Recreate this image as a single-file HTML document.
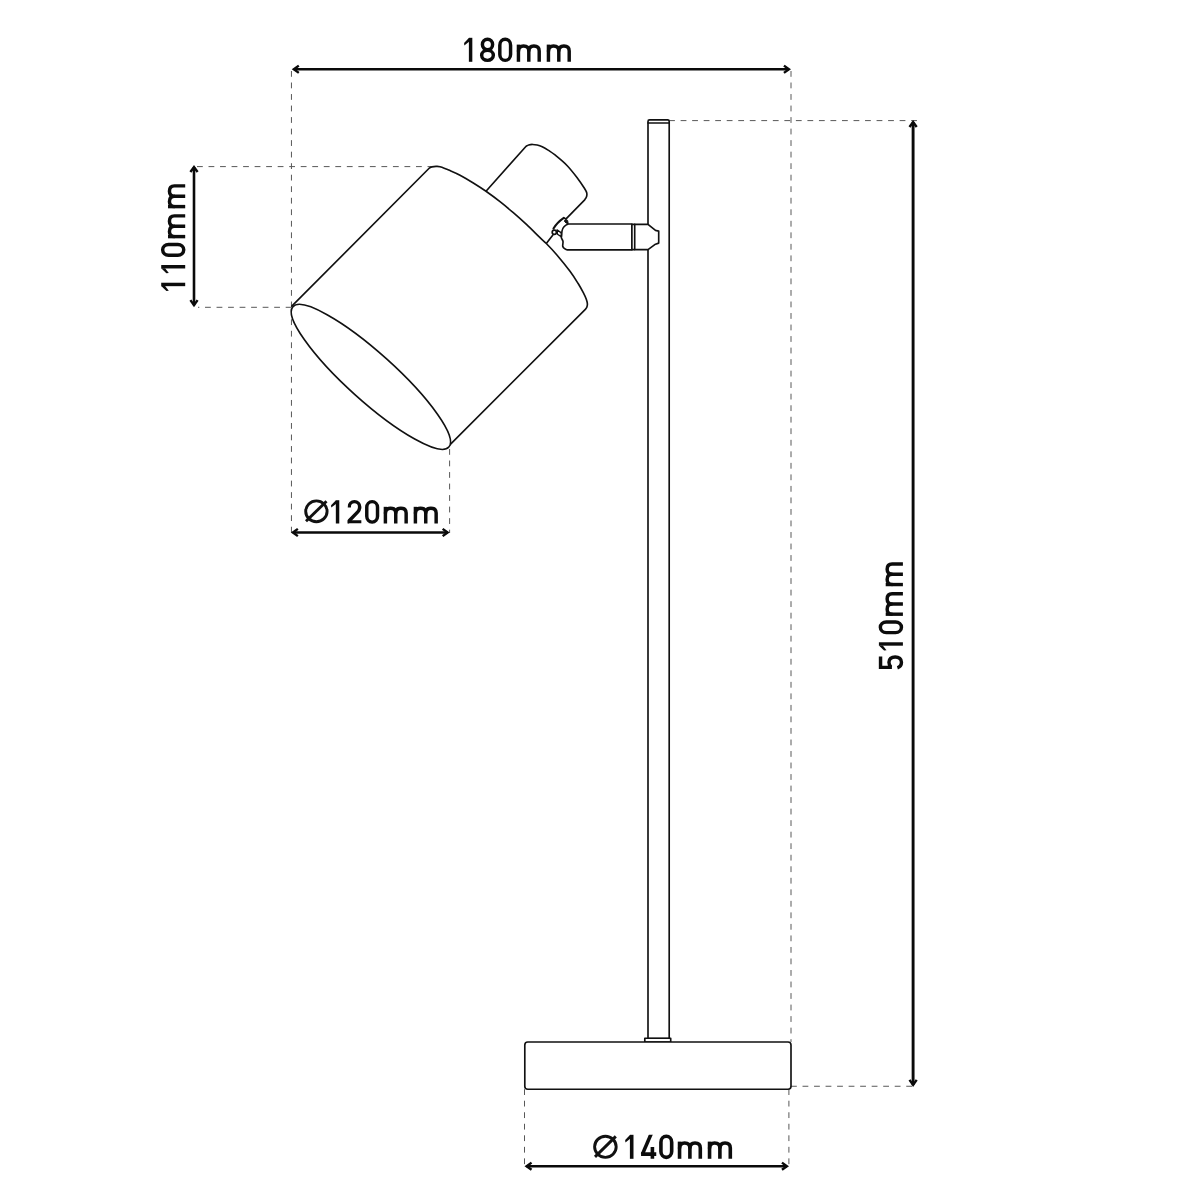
<!DOCTYPE html>
<html>
<head>
<meta charset="utf-8">
<title>Lamp dimensions</title>
<style>
  html, body { margin: 0; padding: 0; background: #ffffff; }
  body { width: 1200px; height: 1200px; overflow: hidden; }
  svg { display: block; position: absolute; left: 0; top: 0; }
  text { font-family: "Liberation Sans", sans-serif; fill: #111; stroke: #111; stroke-width: 0.95; stroke-linejoin: round; }
  .dash { stroke: #585858; stroke-width: 1.0; stroke-dasharray: 5.8 5.726; fill: none; }
  .arr { stroke: #0a0a0a; fill: none; stroke-linecap: butt; stroke-linejoin: miter; }
  .ln { stroke: #111; stroke-width: 1.65; fill: none; stroke-linecap: round; stroke-linejoin: round; }
  .gl { fill: none; stroke: #0c0c0c; stroke-linecap: butt; stroke-linejoin: round; }
  .gl .gf { fill: #0c0c0c; stroke: none; }
  .lnw { stroke: #111; stroke-width: 1.65; fill: #fff; stroke-linecap: round; stroke-linejoin: round; }
</style>
</head>
<body>
<svg width="1200" height="1200" viewBox="0 0 1200 1200">
  <title>Desk lamp dimension drawing</title>
  <desc>Line drawing of a desk lamp with dimensions: width 180mm, shade length 110mm, shade diameter 120mm, height 510mm, base diameter 140mm.</desc>
  <rect x="0" y="0" width="1200" height="1200" fill="#ffffff"/>

  <!-- dashed extension lines -->
  <g class="dash">
    <line x1="291.45" y1="71" x2="291.45" y2="306.5"/>
    <line x1="291.45" y1="307.75" x2="291.45" y2="533"/>
    <line x1="791" y1="71" x2="791" y2="1042"/>
    <line x1="788.9" y1="1089.2" x2="788.9" y2="1166"/>
    <line x1="524.5" y1="1089.2" x2="524.5" y2="1166"/>
    <line x1="449.6" y1="449" x2="449.6" y2="533"/>
    <line x1="197" y1="166.6" x2="431" y2="166.6"/>
    <line x1="291.5" y1="307.3" x2="198" y2="307.3"/>
    <line x1="669.1" y1="120.6" x2="917" y2="120.6"/>
    <line x1="791" y1="1086.25" x2="913" y2="1086.25"/>
  </g>

  <!-- dimension arrows -->
  <g class="arr">
    <line x1="293.75" y1="69.25" x2="789.00" y2="69.25" stroke-width="2.6"/>
    <polyline points="783.95,72.85 788.95,69.25 783.95,65.65" stroke-width="2.4"/>
    <polyline points="298.80,65.65 293.80,69.25 298.80,72.85" stroke-width="2.4"/>
    <line x1="194.00" y1="167.00" x2="194.00" y2="305.20" stroke-width="2.6"/>
    <polyline points="190.40,300.15 194.00,305.15 197.60,300.15" stroke-width="2.4"/>
    <polyline points="197.60,172.05 194.00,167.05 190.40,172.05" stroke-width="2.4"/>
    <line x1="292.80" y1="532.50" x2="447.70" y2="532.50" stroke-width="2.6"/>
    <polyline points="442.65,536.10 447.65,532.50 442.65,528.90" stroke-width="2.4"/>
    <polyline points="297.85,528.90 292.85,532.50 297.85,536.10" stroke-width="2.4"/>
    <line x1="913.10" y1="121.90" x2="913.10" y2="1084.90" stroke-width="2.9"/>
    <polyline points="909.50,1079.85 913.10,1084.85 916.70,1079.85" stroke-width="2.4"/>
    <polyline points="916.70,126.95 913.10,121.95 909.50,126.95" stroke-width="2.4"/>
    <line x1="526.50" y1="1166.20" x2="787.00" y2="1166.20" stroke-width="2.6"/>
    <polyline points="781.95,1169.80 786.95,1166.20 781.95,1162.60" stroke-width="2.4"/>
    <polyline points="531.55,1162.60 526.55,1166.20 531.55,1169.80" stroke-width="2.4"/>
  </g>

  <!-- labels -->
  <defs><clipPath id="clip2"><rect x="0" y="-25" width="15" height="25"/></clipPath><clipPath id="clip4"><rect x="-1" y="-24" width="18" height="25"/></clipPath></defs>
  <g class="gl" role="img" aria-label="180mm" transform="translate(460.95,61.80) scale(1.0,1.0)" stroke-width="3.45"><title>180mm</title><g transform="translate(0.000,0)"><path d="M9.65,0 L9.65,-24" /><polygon class="gf" points="8.10,-24 3.15,-18.8 3.35,-16.4 8.10,-20.1"/></g><g transform="translate(17.700,0)"><ellipse cx="8.85" cy="-17.35" rx="5.1" ry="5.3"/><ellipse cx="8.85" cy="-6.45" rx="5.85" ry="5.0"/></g><g transform="translate(35.400,0)"><rect x="3.475" y="-22.55" width="10.75" height="21.1" rx="5.375" ry="5.9"/></g><g transform="translate(55.900,0)"><path d="M1.6,0 L1.6,-17.2"/><path d="M1.6,-10.4 C1.6,-14 3.6,-15.75 6.7,-15.75 C9.9,-15.75 11.95,-14 11.95,-10.8 L11.95,0"/><path d="M11.95,-10.4 C11.95,-14 13.95,-15.75 17.05,-15.75 C20.3,-15.75 22.35,-14 22.35,-10.8 L22.35,0"/></g><g transform="translate(85.900,0)"><path d="M1.6,0 L1.6,-17.2"/><path d="M1.6,-10.4 C1.6,-14 3.6,-15.75 6.7,-15.75 C9.9,-15.75 11.95,-14 11.95,-10.8 L11.95,0"/><path d="M11.95,-10.4 C11.95,-14 13.95,-15.75 17.05,-15.75 C20.3,-15.75 22.35,-14 22.35,-10.8 L22.35,0"/></g></g>
  <g class="gl" role="img" aria-label="110mm" transform="translate(185.20,294.10) rotate(-90) scale(1.0,1.0)" stroke-width="3.45"><title>110mm</title><g transform="translate(0.000,0)"><path d="M9.65,0 L9.65,-24" /><polygon class="gf" points="8.10,-24 3.15,-18.8 3.35,-16.4 8.10,-20.1"/></g><g transform="translate(17.700,0)"><path d="M9.65,0 L9.65,-24" /><polygon class="gf" points="8.10,-24 3.15,-18.8 3.35,-16.4 8.10,-20.1"/></g><g transform="translate(35.400,0)"><rect x="3.475" y="-22.55" width="10.75" height="21.1" rx="5.375" ry="5.9"/></g><g transform="translate(55.900,0)"><path d="M1.6,0 L1.6,-17.2"/><path d="M1.6,-10.4 C1.6,-14 3.6,-15.75 6.7,-15.75 C9.9,-15.75 11.95,-14 11.95,-10.8 L11.95,0"/><path d="M11.95,-10.4 C11.95,-14 13.95,-15.75 17.05,-15.75 C20.3,-15.75 22.35,-14 22.35,-10.8 L22.35,0"/></g><g transform="translate(85.900,0)"><path d="M1.6,0 L1.6,-17.2"/><path d="M1.6,-10.4 C1.6,-14 3.6,-15.75 6.7,-15.75 C9.9,-15.75 11.95,-14 11.95,-10.8 L11.95,0"/><path d="M11.95,-10.4 C11.95,-14 13.95,-15.75 17.05,-15.75 C20.3,-15.75 22.35,-14 22.35,-10.8 L22.35,0"/></g></g>
  <g class="gl" role="img" aria-label="510mm" transform="translate(902.90,671.00) rotate(-90) scale(0.988,1.0)" stroke-width="3.45"><title>510mm</title><g transform="translate(0.000,0)"><g transform="translate(1.800,0)"><path d="M13,-22.35 L1.85,-22.35 L1.85,-11" stroke-linejoin="miter"/><path d="M2,-11.9 C3.4,-13.3 5,-13.95 7,-13.95 C10.5,-13.95 12.45,-11.6 12.45,-7.7 C12.45,-3.9 10.3,-1.45 7,-1.45 C4.3,-1.45 2.3,-2.7 1.45,-5.5"/></g></g><g transform="translate(17.700,0)"><path d="M9.65,0 L9.65,-24" /><polygon class="gf" points="8.10,-24 3.15,-18.8 3.35,-16.4 8.10,-20.1"/></g><g transform="translate(35.400,0)"><rect x="3.475" y="-22.55" width="10.75" height="21.1" rx="5.375" ry="5.9"/></g><g transform="translate(55.900,0)"><path d="M1.6,0 L1.6,-17.2"/><path d="M1.6,-10.4 C1.6,-14 3.6,-15.75 6.7,-15.75 C9.9,-15.75 11.95,-14 11.95,-10.8 L11.95,0"/><path d="M11.95,-10.4 C11.95,-14 13.95,-15.75 17.05,-15.75 C20.3,-15.75 22.35,-14 22.35,-10.8 L22.35,0"/></g><g transform="translate(85.900,0)"><path d="M1.6,0 L1.6,-17.2"/><path d="M1.6,-10.4 C1.6,-14 3.6,-15.75 6.7,-15.75 C9.9,-15.75 11.95,-14 11.95,-10.8 L11.95,0"/><path d="M11.95,-10.4 C11.95,-14 13.95,-15.75 17.05,-15.75 C20.3,-15.75 22.35,-14 22.35,-10.8 L22.35,0"/></g></g>
  <g class="gl" role="img" aria-label="Ø120mm" transform="translate(327.90,523.50) scale(1.0,0.97)" stroke-width="3.45"><title>Ø120mm</title><g transform="translate(0.000,0)"><path d="M9.65,0 L9.65,-24" /><polygon class="gf" points="8.10,-24 3.15,-18.8 3.35,-16.4 8.10,-20.1"/></g><g transform="translate(17.700,0)"><g transform="translate(1.975,0)" clip-path="url(#clip2)"><path d="M1.62,-16.6 L1.62,-17 A5.25,5.55 0 0 1 12.12,-17 C12.12,-14.8 11.4,-13.4 10.2,-12 L0.2,-1.3 L-1,0"/><path d="M0,-1.65 L13.75,-1.65"/></g></g><g transform="translate(35.400,0)"><rect x="3.475" y="-22.55" width="10.75" height="21.1" rx="5.375" ry="5.9"/></g><g transform="translate(55.900,0)"><path d="M1.6,0 L1.6,-17.2"/><path d="M1.6,-10.4 C1.6,-14 3.6,-15.75 6.7,-15.75 C9.9,-15.75 11.95,-14 11.95,-10.8 L11.95,0"/><path d="M11.95,-10.4 C11.95,-14 13.95,-15.75 17.05,-15.75 C20.3,-15.75 22.35,-14 22.35,-10.8 L22.35,0"/></g><g transform="translate(85.900,0)"><path d="M1.6,0 L1.6,-17.2"/><path d="M1.6,-10.4 C1.6,-14 3.6,-15.75 6.7,-15.75 C9.9,-15.75 11.95,-14 11.95,-10.8 L11.95,0"/><path d="M11.95,-10.4 C11.95,-14 13.95,-15.75 17.05,-15.75 C20.3,-15.75 22.35,-14 22.35,-10.8 L22.35,0"/></g></g>
  <g class="gl" role="img" aria-label="Ø140mm" transform="translate(622.05,1158.80) scale(1.0,1.0)" stroke-width="3.6"><title>Ø140mm</title><g transform="translate(0.000,0)"><path d="M9.65,0 L9.65,-24" /><polygon class="gf" points="8.10,-24 3.15,-18.8 3.35,-16.4 8.10,-20.1"/></g><g transform="translate(17.700,0)"><g transform="translate(1.200,0)" clip-path="url(#clip4)"><path d="M11.45,0 L11.45,-11.8"/><path d="M0.1,-4.65 L15.3,-4.65"/><path d="M10.66,-26 L1.5,-4.65"/></g></g><g transform="translate(35.400,0)"><rect x="3.475" y="-22.55" width="10.75" height="21.1" rx="5.375" ry="5.9"/></g><g transform="translate(55.900,0)"><path d="M1.6,0 L1.6,-17.2"/><path d="M1.6,-10.4 C1.6,-14 3.6,-15.75 6.7,-15.75 C9.9,-15.75 11.95,-14 11.95,-10.8 L11.95,0"/><path d="M11.95,-10.4 C11.95,-14 13.95,-15.75 17.05,-15.75 C20.3,-15.75 22.35,-14 22.35,-10.8 L22.35,0"/></g><g transform="translate(85.900,0)"><path d="M1.6,0 L1.6,-17.2"/><path d="M1.6,-10.4 C1.6,-14 3.6,-15.75 6.7,-15.75 C9.9,-15.75 11.95,-14 11.95,-10.8 L11.95,0"/><path d="M11.95,-10.4 C11.95,-14 13.95,-15.75 17.05,-15.75 C20.3,-15.75 22.35,-14 22.35,-10.8 L22.35,0"/></g></g>

  <!-- diameter symbols -->
  <g fill="none" stroke="#111" stroke-width="2.9" stroke-linecap="butt">
    <ellipse cx="316.4" cy="511.3" rx="10.7" ry="10.4"/>
    <line x1="306" y1="521.3" x2="326.5" y2="501.2"/>
    <ellipse cx="605.4" cy="1146.8" rx="10.8" ry="10.55"/>
    <line x1="595" y1="1156.9" x2="615.8" y2="1136.4"/>
  </g>

  <!-- LAMP -->
  <!-- pole -->
  <path class="lnw" d="M648,1038.5 L648,121.4 Q648,119.9 649.5,119.9 L667.7,119.9 Q669.2,119.9 669.2,121.4 L669.2,1038.5 Z"/>
  <line class="ln" x1="648" y1="123" x2="669.2" y2="123"/>
  <!-- pole collar -->
  <rect class="lnw" x="644.8" y="1038.2" width="25.9" height="3.8"/>
  <!-- base -->
  <rect class="lnw" x="524.8" y="1042" width="266.2" height="47.2" rx="3" ry="3"/>

  <!-- cap (back cylinder) -->
  <path d="M486,191.3 L526.1,146.2 C526.53,145.99 527.63,145.24 528.70,144.95 C529.77,144.66 531.08,144.44 532.50,144.45 C533.92,144.46 535.58,144.61 537.20,145.00 C538.83,145.39 540.37,145.90 542.25,146.80 C544.13,147.70 546.38,149.04 548.50,150.40 C550.62,151.76 551.92,152.44 555.00,154.95 C558.08,157.46 563.25,161.58 567.00,165.45 C570.75,169.32 574.62,174.40 577.50,178.15 C580.38,181.90 582.77,185.66 584.25,187.95 C585.73,190.24 585.96,190.82 586.40,191.90 C586.84,192.98 586.92,193.50 586.90,194.40 C586.88,195.30 586.67,196.40 586.30,197.30 C585.93,198.20 584.97,199.38 584.70,199.80 L566.3,218.6 L553,234.8 L546.3,243.4 Z" fill="#fff" stroke="none"/>
  <path class="ln" d="M486,191.3 L526.1,146.2 C526.53,145.99 527.63,145.24 528.70,144.95 C529.77,144.66 531.08,144.44 532.50,144.45 C533.92,144.46 535.58,144.61 537.20,145.00 C538.83,145.39 540.37,145.90 542.25,146.80 C544.13,147.70 546.38,149.04 548.50,150.40 C550.62,151.76 551.92,152.44 555.00,154.95 C558.08,157.46 563.25,161.58 567.00,165.45 C570.75,169.32 574.62,174.40 577.50,178.15 C580.38,181.90 582.77,185.66 584.25,187.95 C585.73,190.24 585.96,190.82 586.40,191.90 C586.84,192.98 586.92,193.50 586.90,194.40 C586.88,195.30 586.67,196.40 586.30,197.30 C585.93,198.20 584.97,199.38 584.70,199.80 L566.3,218.6"/>
  <path class="ln" d="M552.9,234.9 L546.3,243.4"/>

  <!-- hinge fill -->
  <path d="M563.6,217.9 L566.6,219.2 L567.6,223.6 C564.6,225 562.6,228 562,231 L561.4,236.6 L557.2,234.2 L553.6,235 C552,234 551.8,231.6 552.6,230 C554.6,225.4 559,221 563.6,217.9 Z" fill="#fff" stroke="none"/>
  <!-- arm -->
  <path class="lnw" d="M631.9,224 L568.3,224 C566.5,224.6 565,225.6 564,226.7 C562.8,228 562.2,229.5 562,231 C561.8,232.5 561.7,233.8 561.7,235 C561.6,236 561.3,236.6 561.3,237.3 C561.4,238.8 562.8,240 563,241.3 C563.2,242.8 562.6,244.5 562.7,246 C562.9,247.3 563.6,248.2 564.7,248.7 C565.5,249.3 566.4,249.8 567.3,249.9 L631.9,249.9 Z"/>
  <!-- connector -->
  <path class="lnw" d="M631.9,224.3 L648,224.3 L655.5,230.4 L658.7,231.1 L658.7,243.1 L655.5,244.2 L648,249.6 L631.9,249.6 Z"/>
  <line class="ln" x1="634.7" y1="224.3" x2="634.7" y2="249.6"/>

  <!-- hinge -->
  <path d="M563.8,217.9 C559.6,220.8 555.8,224.6 553.5,228.6" fill="none" stroke="#111" stroke-width="2.1" stroke-linecap="round"/>
  <path class="ln" d="M563.8,217.9 L566.4,219"/>
  <circle cx="554.3" cy="232.3" r="2.1" fill="#fff" stroke="#111" stroke-width="1.7"/>
  <path d="M557,229.9 L561,232.6 L561.5,236.9 L557.5,234.2 Z" fill="#fff" stroke="#111" stroke-width="1.3" stroke-linejoin="round"/>
  <path d="M565.2,219.6 L567.6,220.4 L568.2,223.6 L566,223 L564.4,221.2 Z" fill="#111" stroke="#111" stroke-width="1" stroke-linejoin="round"/>

  <!-- shade -->
  <path d="M291.8,306.2 L429.4,168 C429.83,167.82 430.90,167.17 432.00,166.90 C433.10,166.63 434.67,166.42 436.00,166.40 C437.33,166.38 437.67,166.10 440.00,166.80 C442.33,167.50 446.67,169.20 450.00,170.60 C453.33,172.00 456.12,173.13 460.00,175.20 C463.88,177.27 468.97,180.32 473.30,183.00 C477.63,185.68 481.55,188.18 486.00,191.30 C490.45,194.42 495.45,198.13 500.00,201.70 C504.55,205.27 508.85,208.87 513.30,212.70 C517.75,216.53 522.25,220.53 526.70,224.70 C531.15,228.87 536.73,234.57 540.00,237.70 C543.27,240.83 543.52,240.67 546.30,243.50 C549.08,246.33 552.75,250.07 556.70,254.70 C560.65,259.33 566.45,266.53 570.00,271.30 C573.55,276.07 575.78,279.73 578.00,283.30 C580.22,286.87 581.92,290.03 583.30,292.70 C584.68,295.37 585.62,297.42 586.30,299.30 C586.98,301.18 587.32,302.67 587.40,304.00 C587.48,305.33 587.10,306.45 586.80,307.30 C586.50,308.15 585.80,308.80 585.60,309.10 L449.6,445.1 Z" fill="#fff" stroke="none"/>
  <path class="ln" d="M291.8,306.2 L429.4,168 C429.83,167.82 430.90,167.17 432.00,166.90 C433.10,166.63 434.67,166.42 436.00,166.40 C437.33,166.38 437.67,166.10 440.00,166.80 C442.33,167.50 446.67,169.20 450.00,170.60 C453.33,172.00 456.12,173.13 460.00,175.20 C463.88,177.27 468.97,180.32 473.30,183.00 C477.63,185.68 481.55,188.18 486.00,191.30 C490.45,194.42 495.45,198.13 500.00,201.70 C504.55,205.27 508.85,208.87 513.30,212.70 C517.75,216.53 522.25,220.53 526.70,224.70 C531.15,228.87 536.73,234.57 540.00,237.70 C543.27,240.83 543.52,240.67 546.30,243.50 C549.08,246.33 552.75,250.07 556.70,254.70 C560.65,259.33 566.45,266.53 570.00,271.30 C573.55,276.07 575.78,279.73 578.00,283.30 C580.22,286.87 581.92,290.03 583.30,292.70 C584.68,295.37 585.62,297.42 586.30,299.30 C586.98,301.18 587.32,302.67 587.40,304.00 C587.48,305.33 587.10,306.45 586.80,307.30 C586.50,308.15 585.80,308.80 585.60,309.10 L449.6,445.1"/>
  <!-- front opening ellipse -->
  <ellipse class="lnw" cx="370.5" cy="376.5" rx="104.9" ry="23.9" transform="rotate(42 370.2 377.2)"/>
</svg>
</body>
</html>
